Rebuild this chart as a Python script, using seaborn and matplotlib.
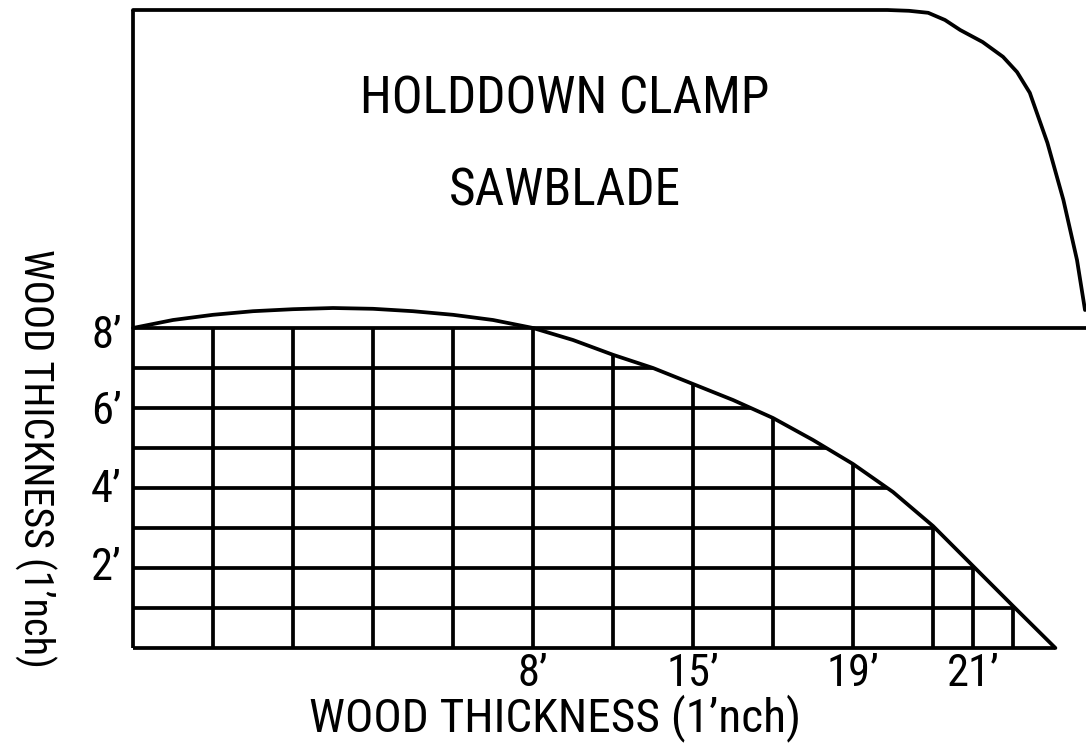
import numpy as np
import pandas as pd
import matplotlib
matplotlib.use("Agg")
import matplotlib.pyplot as plt
import seaborn as sns

# ── Data (grid units: 1 column = 1 x-unit, 1 row = 1 y-unit) ────────
blade_x = [0, 0.5, 1, 1.5, 2, 2.5, 3, 3.5, 4, 4.5, 5, 5.5, 6, 6.5, 7,
           7.5, 8, 8.5, 9, 9.5, 10, 10.5, 11, 11.53]
blade_y = [8, 8.2, 8.33, 8.42, 8.47, 8.5, 8.48, 8.42, 8.33, 8.2, 8.0, 7.7,
           7.33, 7.0, 6.6, 6.2, 5.75, 5.2, 4.6, 3.9, 3.05, 2.05, 1.05, 0]

clamp_x = [0, 9.43, 9.7, 9.94, 10.15, 10.34, 10.62, 10.875, 11.05, 11.21,
           11.43, 11.63, 11.8, 11.9]
clamp_y = [15.95, 15.95, 15.93, 15.88, 15.7, 15.45, 15.15, 14.78, 14.4, 13.88,
           12.63, 11.2, 9.7, 8.45]

row_levels = [1, 2, 3, 4, 5, 6, 7]
col_levels = [1, 2, 3, 4, 5, 6, 7, 8, 9, 10, 10.5, 11]
table_top = 8
table_right = 11.91

x_tick_pos = [5, 7, 9, 10.5]
x_tick_lab = ["8’", "15’", "19’", "21’"]
y_tick_pos = [7.8, 5.9, 3.95, 2.0]
y_tick_lab = ["8’", "6’", "4’", "2’"]

title_lines = ["HOLDDOWN CLAMP", "SAWBLADE"]
x_label = "WOOD THICKNESS (1’nch)"
y_label = "WOOD THICKNESS (1’nch)"

# ── Style ──────────────────────────────────────────────
sns.set_theme(style="white")
FONT = ["Roboto Condensed", "Liberation Sans", "DejaVu Sans"]
plt.rcParams["font.family"] = FONT
LW = 2.7
K = "black"

fig = plt.figure(figsize=(10.86, 7.54), dpi=100)
ax = fig.add_axes([0, 0, 1, 1])
ax.set_xlim(-1.6625, 11.9125)
ax.set_ylim(-2.65, 16.2)
ax.axis("off")

blade = pd.DataFrame({"x": blade_x, "y": blade_y})
clamp = pd.DataFrame({"x": clamp_x, "y": clamp_y})

# blade profile + clamp outline
sns.lineplot(data=blade, x="x", y="y", sort=False, color=K, lw=LW, ax=ax)
sns.lineplot(data=clamp, x="x", y="y", sort=False, color=K, lw=LW, ax=ax)

# grid lines stop on the blade curve (verticals never above the 8' line)
desc = blade[blade["x"] >= 5]
row_ends = np.interp(row_levels, desc["y"][::-1], desc["x"][::-1])
col_tops = np.minimum(np.interp(col_levels, blade["x"], blade["y"]), table_top)

ax.hlines(row_levels, 0, row_ends, color=K, lw=LW)
ax.vlines(col_levels, 0, col_tops, color=K, lw=LW)
ax.hlines(table_top, 0, table_right, color=K, lw=LW)
ax.hlines(0, 0, blade_x[-1], color=K, lw=LW)
ax.vlines(0, 0, clamp_y[0], color=K, lw=LW)

ax.text(5.4, 13.72, title_lines[0], ha="center", va="center", fontsize=37, color=K)
ax.text(5.4, 11.4, title_lines[1], ha="center", va="center", fontsize=37, color=K)

for p, l in zip(x_tick_pos, x_tick_lab):
    ax.text(p, -0.12, l, ha="center", va="top", fontsize=32, color=K)
for p, l in zip(y_tick_pos, y_tick_lab):
    ax.text(-0.14, p, l, ha="right", va="center", fontsize=32, color=K)

ax.text(5.275, -1.75, x_label, ha="center", va="center", fontsize=34, color=K)
ax.text(-1.22, 4.75, y_label, ha="center", va="center", rotation=-90,
        fontsize=29, color=K)

fig.savefig("out.png", dpi=100)
